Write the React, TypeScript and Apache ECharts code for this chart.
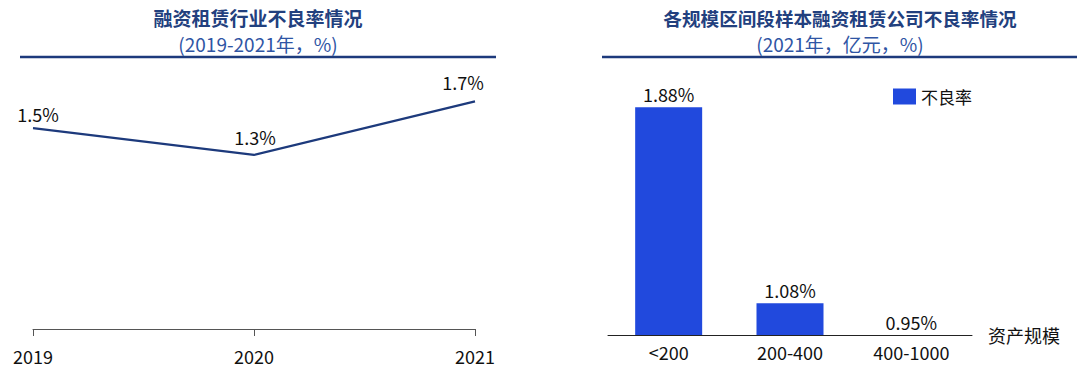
import React, { useEffect, useRef } from "react";
import * as echarts from "echarts";

const lineYears = ["2019", "2020", "2021"];
const lineValues = [1.5, 1.3, 1.7];
const lineLabelOffsets: number[][] = [[5, 0], [1, -4], [-12, -5]];

const barCategories = ["<200", "200-400", "400-1000"];
const barValues = [1.88, 1.08, 0.95];
const barSeriesName = "不良率";

const leftTitle = "融资租赁行业不良率情况";
const leftSubtitle = "(2019-2021年，%)";
const rightTitle = "各规模区间段样本融资租赁公司不良率情况";
const rightSubtitle = "(2021年，亿元，%)";
const barAxisName = "资产规模";

const FONT = '"Noto Sans CJK SC", "Noto Sans", sans-serif';
const TITLE_COLOR = "#22407e";
const SUB_COLOR = "#2f55a4";
const RULE_COLOR = "#1d3a7c";

export default function App() {
  const ref = useRef<HTMLDivElement>(null);
  useEffect(() => {
    if (!ref.current) return;
    const chart = echarts.init(ref.current, undefined, { renderer: "svg" });
    chart.setOption({
      animation: false,
      textStyle: { fontFamily: FONT },
      legend: {
        show: true,
        data: [barSeriesName],
        left: 888,
        top: 83,
        itemWidth: 23,
        itemHeight: 16,
        icon: "rect",
        textStyle: { fontSize: 17, color: "#111", fontFamily: FONT },
      },
      grid: [
        { left: 33, right: 605, top: 88, bottom: 44 },
        { left: 608, right: 108, top: 78, bottom: 38 },
      ],
      xAxis: [
        {
          type: "category",
          gridIndex: 0,
          data: lineYears,
          boundaryGap: false,
          axisLine: { lineStyle: { color: "#555", width: 1 } },
          axisTick: { show: true, length: 7, lineStyle: { color: "#555" } },
          axisLabel: { color: "#111", fontSize: 18, margin: 18, fontFamily: FONT },
        },
        {
          type: "category",
          gridIndex: 1,
          data: barCategories,
          axisLine: { lineStyle: { color: "#222", width: 1 } },
          axisTick: { show: false },
          axisLabel: { color: "#111", fontSize: 18, margin: 8, fontFamily: FONT },
          name: barAxisName,
          nameLocation: "end",
          nameGap: 16,
          nameTextStyle: { color: "#111", fontSize: 18, fontFamily: FONT },
        },
      ],
      yAxis: [
        { type: "value", gridIndex: 0, min: 0, max: 1.8, show: false },
        { type: "value", gridIndex: 1, min: 0.95, max: 2.0, show: false },
      ],
      series: [
        {
          type: "line",
          xAxisIndex: 0,
          yAxisIndex: 0,
          data: lineValues.map((v, i) => ({
            value: v,
            label: { offset: lineLabelOffsets[i] },
          })),
          symbol: "circle",
          symbolSize: 0,
          lineStyle: { color: RULE_COLOR, width: 2.2 },
          itemStyle: { color: RULE_COLOR },
          label: {
            show: true,
            position: "top",
            distance: 5,
            formatter: "{c}%",
            color: "#111",
            fontSize: 18,
            fontFamily: FONT,
          },
        },
        {
          type: "bar",
          name: barSeriesName,
          xAxisIndex: 1,
          yAxisIndex: 1,
          data: barValues,
          barWidth: 67,
          itemStyle: { color: "#2149dd" },
          label: {
            show: true,
            position: "top",
            distance: 4,
            formatter: "{c}%",
            color: "#111",
            fontSize: 18,
            fontFamily: FONT,
          },
        },
      ],
      graphic: [
        {
          type: "text",
          x: 258,
          y: 17,
          style: {
            text: leftTitle,
            font: `bold 19px ${FONT}`,
            fill: TITLE_COLOR,
            textAlign: "center",
            textVerticalAlign: "middle",
          },
        },
        {
          type: "text",
          x: 258,
          y: 43,
          style: {
            text: leftSubtitle,
            font: `19px ${FONT}`,
            fill: SUB_COLOR,
            textAlign: "center",
            textVerticalAlign: "middle",
          },
        },
        {
          type: "text",
          x: 840,
          y: 17,
          style: {
            text: rightTitle,
            font: `bold 18.6px ${FONT}`,
            fill: TITLE_COLOR,
            textAlign: "center",
            textVerticalAlign: "middle",
          },
        },
        {
          type: "text",
          x: 840,
          y: 43,
          style: {
            text: rightSubtitle,
            font: `19px ${FONT}`,
            fill: SUB_COLOR,
            textAlign: "center",
            textVerticalAlign: "middle",
          },
        },
        {
          type: "line",
          shape: { x1: 20, y1: 57, x2: 496, y2: 57 },
          style: { stroke: RULE_COLOR, lineWidth: 2.5 },
        },
        {
          type: "line",
          shape: { x1: 602, y1: 57, x2: 1077, y2: 57 },
          style: { stroke: RULE_COLOR, lineWidth: 2.5 },
        },
      ],
    });
    return () => chart.dispose();
  }, []);
  return (
    <div
      ref={ref}
      style={{ position: "absolute", left: 0, top: 0, width: 1080, height: 373 }}
    />
  );
}
